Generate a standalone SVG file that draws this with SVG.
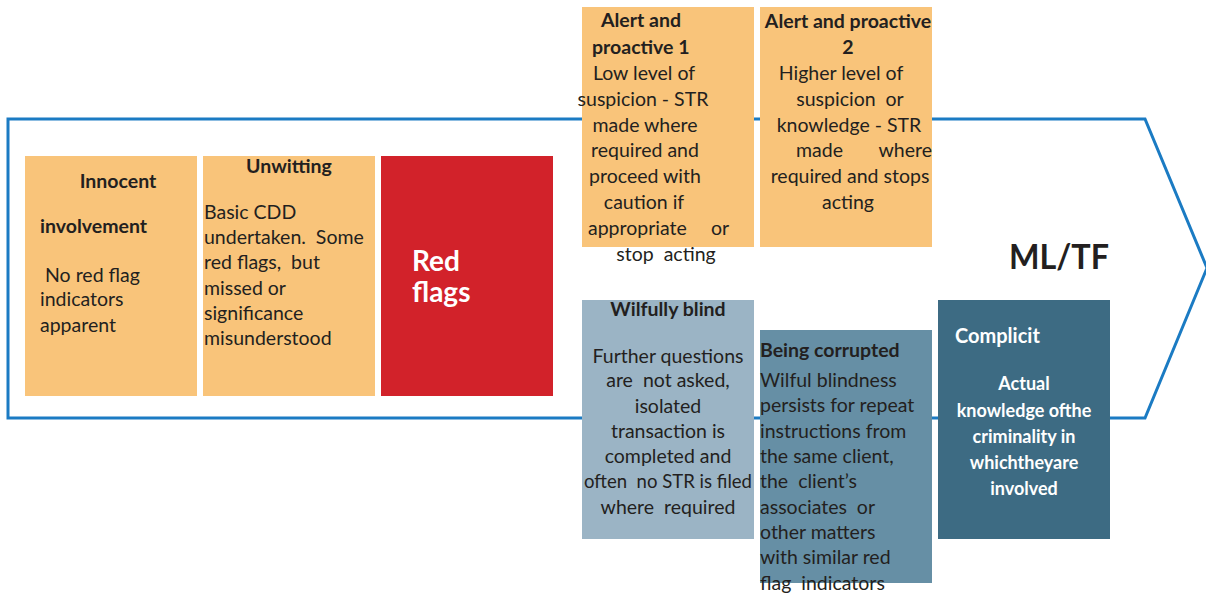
<svg xmlns="http://www.w3.org/2000/svg" width="1206" height="599" viewBox="0 0 1206 599">
<style>
.t{font-family:Lato,"Liberation Sans",sans-serif;font-size:19.5px;fill:#231f20;white-space:pre}
.b{font-weight:bold}
.w{fill:#ffffff}
.m{text-anchor:middle}
.s{font-size:18px}
.or{fill:#f9c47a}
</style>
<rect width="1206" height="599" fill="#ffffff"/>
<g id="connectors">
<polygon points="8,119 1145,119 1207,268 1145,418 8,418" fill="none" stroke="#1b7bc3" stroke-width="3"/>
</g>
<g id="innocent">
<rect class="or" x="25" y="156" width="172" height="240"/>
<text class="t b m" x="118" y="188">Innocent</text>
<text class="t b" x="40" y="233">involvement</text>
<text class="t" x="45" y="282">No red flag</text>
<text class="t" x="40" y="306">indicators</text>
<text class="t" x="40" y="332">apparent</text>
</g>
<g id="unwitting">
<rect class="or" x="203" y="156" width="172" height="240"/>
<text class="t b m" x="289" y="173">Unwitting</text>
<text class="t" x="204" y="219">Basic CDD</text>
<text class="t" x="204" y="244">undertaken.  Some</text>
<text class="t" x="204" y="269">red flags,  but</text>
<text class="t" x="204" y="295">missed or</text>
<text class="t" x="204" y="320">significance</text>
<text class="t" x="204" y="345">misunderstood</text>
</g>
<g id="redflags">
<rect x="381" y="156" width="172" height="240" fill="#d2222a"/>
<text class="t b w" x="412" y="271" style="font-size:28px">Red</text>
<text class="t b w" x="412" y="302" style="font-size:28px">flags</text>
</g>
<g id="alert1">
<rect class="or" x="582" y="7" width="172" height="240"/>
<text class="t b" x="601" y="27">Alert and</text>
<text class="t b" x="592" y="54">proactive 1</text>
<text class="t m" x="644" y="80">Low level of</text>
<text class="t m" x="643" y="106">suspicion - STR</text>
<text class="t m" x="645" y="132">made where</text>
<text class="t m" x="645" y="157">required and</text>
<text class="t m" x="645" y="183">proceed with</text>
<text class="t m" x="644" y="209">caution if</text>
<text class="t" x="588" y="235">appropriate</text>
<text class="t" x="711" y="235">or</text>
<text class="t m" x="666" y="261">stop  acting</text>
</g>
<g id="alert2">
<rect class="or" x="760" y="7" width="172" height="240"/>
<text class="t b m" x="848" y="28">Alert and proactive</text>
<text class="t b m" x="848" y="54">2</text>
<text class="t m" x="841" y="80">Higher level of</text>
<text class="t m" x="850" y="106">suspicion  or</text>
<text class="t m" x="849" y="132">knowledge - STR</text>
<text class="t" x="796" y="157">made</text>
<text class="t" x="932" y="157" text-anchor="end">where</text>
<text class="t m" x="850" y="183">required and stops</text>
<text class="t m" x="848" y="209">acting</text>
</g>
<g id="mltf">
<text class="t b" x="1009" y="269" style="font-size:35px" textLength="100" lengthAdjust="spacingAndGlyphs">ML/TF</text>
</g>
<g id="wilfully">
<rect x="582" y="300" width="172" height="239" fill="#9bb4c5"/>
<text class="t b m" x="668" y="316">Wilfully blind</text>
<text class="t m" x="668" y="363">Further questions</text>
<text class="t m" x="668" y="387">are  not asked,</text>
<text class="t m" x="668" y="413">isolated</text>
<text class="t m" x="668" y="438">transaction is</text>
<text class="t m" x="668" y="463">completed and</text>
<text class="t m" x="668" y="488" textLength="168" lengthAdjust="spacingAndGlyphs">often  no STR is filed</text>
<text class="t m" x="668" y="514">where  required</text>
</g>
<g id="corrupted">
<rect x="760" y="330" width="172" height="253" fill="#668fa5"/>
<text class="t b" x="760" y="357">Being corrupted</text>
<text class="t" x="760" y="387">Wilful blindness</text>
<text class="t" x="760" y="412">persists for repeat</text>
<text class="t" x="760" y="438">instructions from</text>
<text class="t" x="760" y="463">the same client,</text>
<text class="t" x="760" y="488">the  client’s</text>
<text class="t" x="760" y="514">associates  or</text>
<text class="t" x="760" y="539">other matters</text>
<text class="t" x="760" y="564">with similar red</text>
<text class="t" x="760" y="590">flag  indicators</text>
</g>
<g id="complicit">
<rect x="938" y="300" width="172" height="239" fill="#3d6b83"/>
<text class="t b w" x="955" y="343" style="font-size:20px">Complicit</text>
<text class="t b w m s" x="1024" y="390">Actual</text>
<text class="t b w m s" x="1024" y="417">knowledge ofthe</text>
<text class="t b w m s" x="1024" y="443">criminality in</text>
<text class="t b w m s" x="1024" y="469">whichtheyare</text>
<text class="t b w m s" x="1024" y="495">involved</text>
</g>
</svg>
